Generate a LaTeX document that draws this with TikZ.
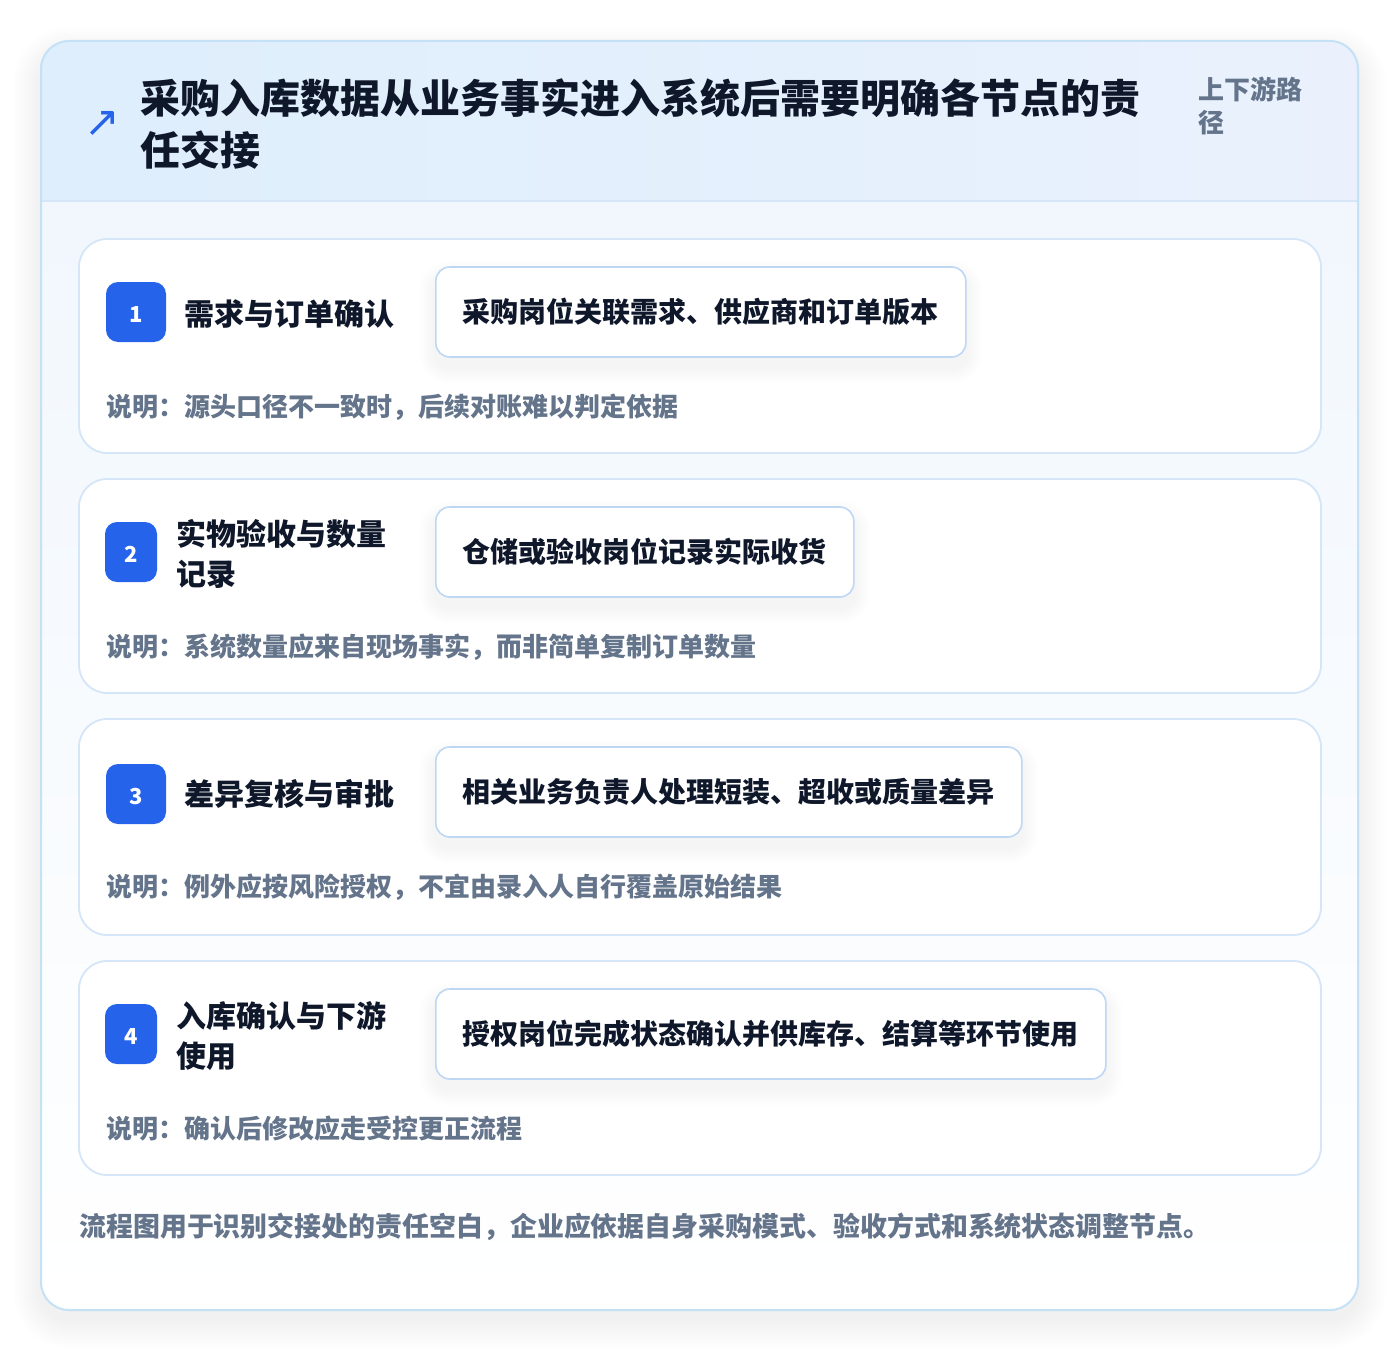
\documentclass[tikz,border=0pt]{standalone}
\usepackage{fontspec}
\setmainfont{Noto Sans CJK SC}
\newfontfamily\symfont{DejaVu Sans}
\usetikzlibrary{positioning}
\definecolor{accent}{HTML}{2563EB}
\definecolor{ink}{HTML}{0F172A}
\definecolor{muted}{HTML}{64748B}
\definecolor{frameline}{HTML}{C4E1F5}
\definecolor{cardline}{HTML}{D5E6F8}
\definecolor{pillline}{HTML}{BDD7F5}
\definecolor{headleft}{HTML}{DEEEFC}
\definecolor{headright}{HTML}{EAF1FD}
\definecolor{bodytop}{HTML}{F1F7FD}
\pgfdeclarelayer{back}
\pgfdeclarelayer{mid}
\pgfsetlayers{back,mid,main}
\begin{document}
\begin{tikzpicture}[x=0.75pt,y=-0.75pt,
    cardbox/.style={draw=cardline, line width=1.4pt, fill=white, rounded corners=21pt,
      minimum width=931.5pt, minimum height=160.5pt},
    badge/.style={fill=accent, text=white, rounded corners=9pt, minimum width=45pt,
      minimum height=45pt, inner sep=0pt, text height=15pt, text depth=0pt,
      font=\bfseries\fontsize{16.5}{18}\selectfont},
    steptitle/.style={anchor=west, align=left, inner sep=0pt, text=ink,
      font=\bfseries\fontsize{22.5}{30}\selectfont},
    pill/.style={anchor=west, draw=pillline, line width=1.2pt, fill=white, rounded corners=10.5pt,
      minimum height=67.5pt, inner xsep=20.25pt, inner ysep=0pt, text=ink,
      font=\bfseries\fontsize{21}{25}\selectfont},
    note/.style={anchor=west, inner sep=0pt, text=muted, font=\bfseries\fontsize{19.5}{24}\selectfont}]
  \useasboundingbox (0,0) rectangle (1400,1352);
  \begin{pgfonlayer}{back}
  \fill[white] (0,0) rectangle (1400,1352);
  % outer frame
  \foreach \k in {1,...,14} {
    \pgfmathsetmacro\r{21+\k*1.5}
    \fill[black, opacity=0.005, rounded corners=\r pt]
      (41-\k*2,41-\k*2+14) rectangle (1358+\k*2,1310+\k*2+10);
  }
  \begin{scope}
    \clip[rounded corners=21pt] (41,41) rectangle (1358,1310);
    \shade[top color=bodytop, bottom color=white] (41,201) rectangle (1358,1310);
    \shade[left color=headleft, right color=headright] (41,41) rectangle (1358,201);
    \draw[cardline, line width=1.2pt] (41,201) -- (1358,201);
  \end{scope}
  \draw[frameline, line width=1.5pt, rounded corners=21pt] (41,41) rectangle (1358,1310);
  \node[cardbox] (card1) at (700,346) {};
  \node[cardbox] (card2) at (700,586) {};
  \node[cardbox, minimum height=162pt] (card3) at (700,827) {};
  \node[cardbox] (card4) at (700,1068) {};
  \end{pgfonlayer}
  % header
  \node[text=accent, inner sep=0pt, font=\symfont\fontsize{32}{32}\selectfont] (icon) at (102,124) {↗};
  \node[anchor=west, align=left, inner sep=0pt, text=ink, font=\bfseries\fontsize{30}{39}\selectfont]
    (title) at (140,124) {采购入库数据从业务事实进入系统后需要明确各节点的责\\任交接};
  \node[anchor=west, align=left, inner sep=0pt, text=muted, font=\bfseries\fontsize{19.5}{25}\selectfont]
    (path) at (1198,106) {上下游路\\径};
  % step 1
  \node[badge] (badge1) at (136,312) {1};
  \node[steptitle] (title1) at (184,314) {需求与订单确认};
  \node[pill] (pill1) at (435,312) {采购岗位关联需求、供应商和订单版本};
  \node[note] (note1) at (106,407) {说明：源头口径不一致时，后续对账难以判定依据};
  % step 2
  \node[badge, minimum width=39pt] (badge2) at (131,552) {2};
  \node[steptitle] (title2) at (176,554) {实物验收与数量\\记录};
  \node[pill] (pill2) at (435,552) {仓储或验收岗位记录实际收货};
  \node[note] (note2) at (106,647) {说明：系统数量应来自现场事实，而非简单复制订单数量};
  % step 3
  \node[badge] (badge3) at (136,794) {3};
  \node[steptitle] (title3) at (184,794) {差异复核与审批};
  \node[pill] (pill3) at (435,792) {相关业务负责人处理短装、超收或质量差异};
  \node[note] (note3) at (106,887) {说明：例外应按风险授权，不宜由录入人自行覆盖原始结果};
  % step 4
  \node[badge, minimum width=39pt] (badge4) at (131,1034) {4};
  \node[steptitle] (title4) at (176,1036) {入库确认与下游\\使用};
  \node[pill] (pill4) at (435,1034) {授权岗位完成状态确认并供库存、结算等环节使用};
  \node[note] (note4) at (106,1129) {说明：确认后修改应走受控更正流程};
  % soft shadow under the pills
  \begin{pgfonlayer}{mid}
  \foreach \p in {pill1,pill2,pill3,pill4}
    \foreach \k in {1,...,10} {
      \pgfmathsetmacro\r{10.5+\k*1.2}
      \fill[black, opacity=0.005, rounded corners=\r pt]
        ([shift={(-\k*1.6,10-\k*1.6)}]\p.north west) rectangle ([shift={(\k*1.6,10+\k*1.6)}]\p.south east);
    }
  \end{pgfonlayer}
  % footer
  \node[anchor=west, inner sep=0pt, text=muted, font=\bfseries\fontsize{20.2}{24}\selectfont]
    (foot) at (79,1227) {流程图用于识别交接处的责任空白，企业应依据自身采购模式、验收方式和系统状态调整节点。};
\end{tikzpicture}
\end{document}
